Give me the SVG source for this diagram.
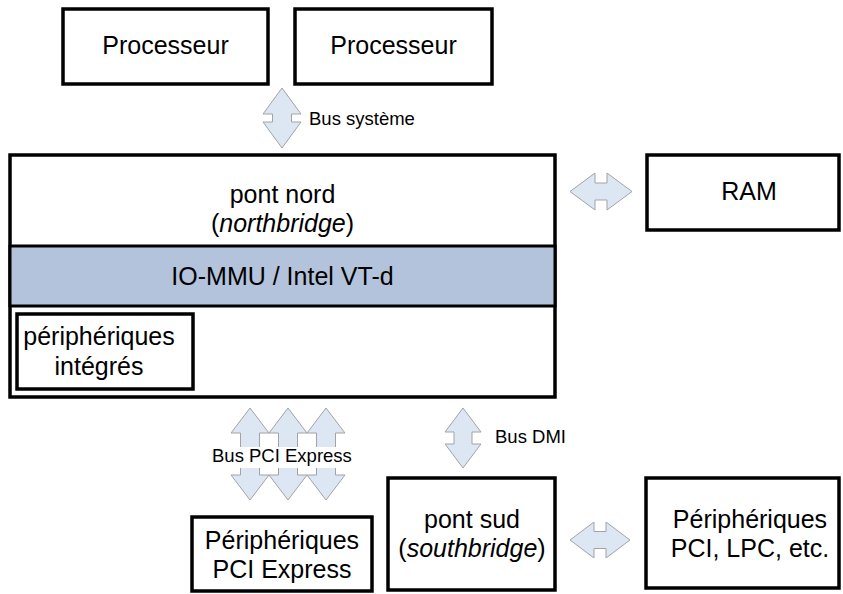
<svg xmlns="http://www.w3.org/2000/svg" width="843" height="594" viewBox="0 0 843 594">
  <style>
    .box { fill: #ffffff; stroke: #000000; stroke-width: 3.5; }
    .band { fill: #b3c3db; stroke: #000000; stroke-width: 3; }
    .sep { stroke: #000000; stroke-width: 3; }
    .arrow { fill: #dde6f3; stroke: #a3a3a3; stroke-width: 1; stroke-linejoin: miter; }
    .lbl { font-family: "Liberation Sans", Arial, sans-serif; font-size: 25px; fill: #000000; text-anchor: middle; }
    .small { font-family: "Liberation Sans", Arial, sans-serif; font-size: 18.5px; fill: #000000; }
  </style>

  <rect width="843" height="594" fill="#ffffff"/>

  <!-- Connectors: double-headed block arrows -->
  <g id="connectors">
    <!-- system bus -->
    <path class="arrow" d="M282,88 L301,114 L291.5,114 L291.5,122 L301,122 L282,148 L263,122 L272.5,122 L272.5,114 L263,114 Z"/>
    <!-- northbridge <-> RAM -->
    <path class="arrow" d="M570,191.5 L595,173 L595,183 L607,183 L607,173 L632,191.5 L607,210 L607,200 L595,200 L595,210 Z"/>
    <!-- PCI Express lanes -->
    <path class="arrow" d="M250,408 L269,433 L259.5,433 L259.5,475 L269,475 L250,500 L231,475 L240.5,475 L240.5,433 L231,433 Z"/>
    <path class="arrow" d="M288,408 L307,433 L297.5,433 L297.5,475 L307,475 L288,500 L269,475 L278.5,475 L278.5,433 L269,433 Z"/>
    <path class="arrow" d="M326,408 L345,433 L335.5,433 L335.5,475 L345,475 L326,500 L307,475 L316.5,475 L316.5,433 L307,433 Z"/>
    <rect x="210" y="447" width="146" height="21" fill="#ffffff"/>
    <text class="small" x="212" y="462">Bus PCI Express</text>
    <!-- DMI bus -->
    <path class="arrow" d="M463,408 L481,432 L472,432 L472,444 L481,444 L463,468 L445,444 L454,444 L454,432 L445,432 Z"/>
    <!-- southbridge <-> legacy devices -->
    <path class="arrow" d="M570,540 L594,522 L594,531.5 L606,531.5 L606,522 L630,540 L606,558 L606,548.5 L594,548.5 L594,558 Z"/>
    <text class="small" x="309" y="125">Bus système</text>
    <text class="small" x="495" y="443">Bus DMI</text>
  </g>

  <g id="cpu1">
    <rect class="box" x="63" y="9" width="205" height="75"/>
    <text class="lbl" x="165.5" y="54">Processeur</text>
  </g>

  <g id="cpu2">
    <rect class="box" x="295" y="9" width="197" height="75"/>
    <text class="lbl" x="393.5" y="54">Processeur</text>
  </g>

  <g id="northbridge">
    <rect class="box" x="10" y="155" width="545" height="242"/>
    <rect class="band" x="10" y="246" width="545" height="60"/>
    <text class="lbl" x="282.5" y="203">pont nord</text>
    <text class="lbl" x="282.5" y="232">(<tspan font-style="italic">northbridge</tspan>)</text>
  </g>

  <g id="iommu">
    <text class="lbl" x="282.5" y="285">IO-MMU / Intel VT-d</text>
  </g>

  <g id="integrated">
    <rect class="box" x="17" y="314" width="176" height="75"/>
    <text class="lbl" x="99" y="345">périphériques</text>
    <text class="lbl" x="99" y="375">intégrés</text>
  </g>

  <g id="ram">
    <rect class="box" x="647" y="155" width="192" height="75"/>
    <text class="lbl" x="749" y="200">RAM</text>
  </g>

  <g id="pcie-devices">
    <rect class="box" x="192" y="517" width="180" height="74"/>
    <text class="lbl" x="282" y="549">Périphériques</text>
    <text class="lbl" x="282" y="578">PCI Express</text>
  </g>

  <g id="southbridge">
    <rect class="box" x="388" y="478" width="167" height="112"/>
    <text class="lbl" x="472" y="528">pont sud</text>
    <text class="lbl" x="472" y="557">(<tspan font-style="italic">southbridge</tspan>)</text>
  </g>

  <g id="legacy-devices">
    <rect class="box" x="646" y="478" width="193" height="110"/>
    <text class="lbl" x="750" y="528">Périphériques</text>
    <text class="lbl" x="750" y="557">PCI, LPC, etc.</text>
  </g>
</svg>
